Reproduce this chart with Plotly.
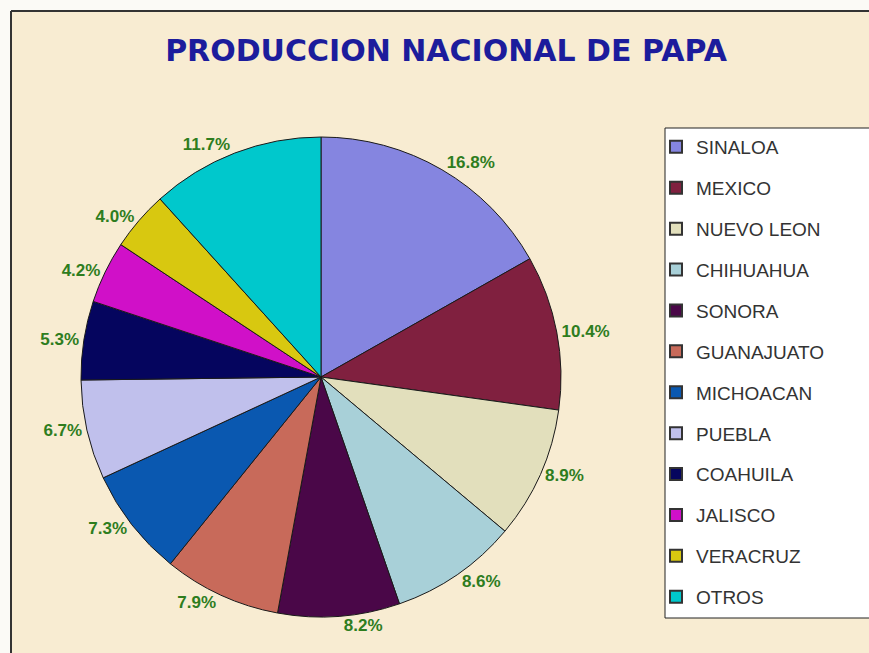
import plotly.graph_objects as go

states = ["SINALOA", "MEXICO", "NUEVO LEON", "CHIHUAHUA", "SONORA", "GUANAJUATO",
          "MICHOACAN", "PUEBLA", "COAHUILA", "JALISCO", "VERACRUZ", "OTROS"]
shares = [16.8, 10.4, 8.9, 8.6, 8.2, 7.9, 7.3, 6.7, 5.3, 4.2, 4.0, 11.7]
colors = ["#8585e0", "#80203f", "#e2dfbc", "#a8d0d8", "#4a0748", "#c86a5a",
          "#0a58b0", "#c0c0ec", "#05055e", "#d010c8", "#d8c810", "#00c8cc"]

W, H = 869, 653
fig = go.Figure()

fig.add_trace(go.Pie(
    labels=states, values=shares, sort=False, direction="clockwise", rotation=0,
    marker=dict(colors=colors, line=dict(color="#1a1a1a", width=1)),
    texttemplate="%{value:.1f}%", textposition="outside",
    outsidetextfont=dict(family="Liberation Sans Narrow, Arial Narrow, Liberation Sans",
                         size=17, color="#2e7d1e", weight="bold"),
    domain=dict(x=[81 / W, 561 / W], y=[1 - 617 / H, 1 - 137 / H]),
    showlegend=False, hoverinfo="label+percent",
))

for s, c in zip(states, colors):
    fig.add_trace(go.Scatter(
        x=[None], y=[None], mode="markers", name=s, legendgroup=s,
        marker=dict(symbol="square", size=11, color=c, line=dict(color="#333", width=1)),
        showlegend=True,
    ))

bx0, by1 = 11 / W, 1 - 11 / H           # chart frame (top-left corner)
lx0, ly0, ly1 = 665 / W, 1 - 618 / H, 1 - 128 / H   # legend box

fig.update_layout(
    width=W, height=H,
    margin=dict(l=0, r=0, t=0, b=0),
    paper_bgcolor="#fbfaf6", plot_bgcolor="rgba(0,0,0,0)",
    xaxis=dict(visible=False), yaxis=dict(visible=False),
    title=dict(text="PRODUCCION NACIONAL DE PAPA", x=446 / W, xanchor="center",
               y=1 - 50 / H, yanchor="middle", xref="paper", yref="paper",
               font=dict(family="DejaVu Sans, Liberation Sans", size=30, color="#1c1c9c", weight="bold")),
    legend=dict(x=656 / W, xanchor="left", y=1 - 128 / H, yanchor="top",
                bgcolor="rgba(0,0,0,0)", borderwidth=0,
                font=dict(family="Liberation Sans, Arial", size=19, color="#333"),
                tracegroupgap=13.2, itemsizing="constant"),
    shapes=[
        dict(type="rect", xref="paper", yref="paper", x0=bx0, x1=1, y0=0, y1=by1,
             fillcolor="#f8ecd2", line=dict(width=0), layer="below"),
        dict(type="line", xref="paper", yref="paper", x0=bx0, x1=1, y0=by1, y1=by1,
             line=dict(color="#333", width=2), layer="below"),
        dict(type="line", xref="paper", yref="paper", x0=bx0, x1=bx0, y0=0, y1=by1,
             line=dict(color="#333", width=2), layer="below"),
        dict(type="rect", xref="paper", yref="paper", x0=lx0, x1=1, y0=ly0, y1=ly1,
             fillcolor="white", line=dict(width=0), layer="below"),
        dict(type="line", xref="paper", yref="paper", x0=lx0, x1=1, y0=ly1, y1=ly1,
             line=dict(color="#222", width=1), layer="below"),
        dict(type="line", xref="paper", yref="paper", x0=lx0, x1=1, y0=ly0, y1=ly0,
             line=dict(color="#222", width=1), layer="below"),
        dict(type="line", xref="paper", yref="paper", x0=lx0, x1=lx0, y0=ly0, y1=ly1,
             line=dict(color="#222", width=1), layer="below"),
    ],
)

fig.write_html("out.html", config={"displayModeBar": False},
               post_script=("document.documentElement.style.overflow='hidden';"
                            "document.body.style.margin='0';document.body.style.overflow='hidden';"))
